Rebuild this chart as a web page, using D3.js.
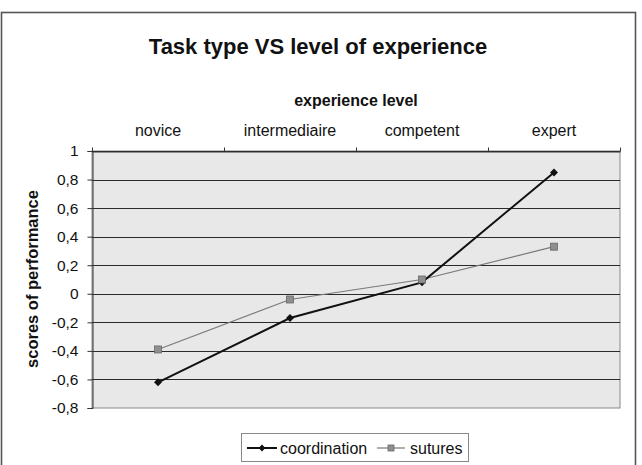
<!DOCTYPE html>
<html>
<head>
<meta charset="utf-8">
<script src="https://cdn.jsdelivr.net/npm/d3@7"></script>
<style>
  body { margin: 0; background: #fff; }
  svg text { font-family: "Liberation Sans", Arial, Helvetica, sans-serif; fill: #111; }
</style>
</head>
<body>
<div id="chart"></div>
<script>
//Chart data: performance scores per experience level
let levels = ['novice', 'intermediaire', 'competent', 'expert'];
let coordination = [-0.62, -0.17, 0.08, 0.85];
let sutures = [-0.39, -0.04, 0.10, 0.33];
let y_ticks = [-0.8, -0.6, -0.4, -0.2, 0, 0.2, 0.4, 0.6, 0.8, 1];

let width = 642, height = 465;
//Plot area bounds
let plot = {left: 92, right: 620, top: 151, bottom: 408};

let svg = d3.select('#chart').append('svg').attr('width', width).attr('height', height);

//Outer chart frame (bottom edge falls outside the picture)
svg.append('rect').attr('x', 1.5).attr('y', 12.5).attr('width', 634).attr('height', 470)
    .attr('fill', 'none').attr('stroke', '#555').attr('stroke-width', 1.6);

let x = d3.scaleBand().domain(levels).range([plot.left, plot.right]).padding(0);
let y = d3.scaleLinear().domain([-0.8, 1]).range([plot.bottom, plot.top]);

//Plot background
svg.append('rect').attr('x', plot.left).attr('y', plot.top)
    .attr('width', plot.right - plot.left).attr('height', plot.bottom - plot.top)
    .attr('fill', '#e8e8e8').attr('stroke', '#888').attr('stroke-width', 1);

//Horizontal gridlines
svg.append('g').selectAll('line').data(y_ticks.filter(t => t > -0.8)).enter().append('line')
    .attr('x1', plot.left).attr('x2', plot.right)
    .attr('y1', d => Math.round(y(d)) + 0.5).attr('y2', d => Math.round(y(d)) + 0.5)
    .attr('stroke', '#2a2a2a').attr('stroke-width', 1);

//Y axis
let yAxis = d3.axisLeft(y).tickValues(y_ticks).tickSize(5).tickPadding(9)
    .tickFormat(d => d3.format('.1f')(d).replace('.', ',').replace('0,0', '0').replace('1,0', '1').replace('−', '-'));
let yg = svg.append('g').attr('transform', 'translate(' + (plot.left + 0.5) + ',0)').call(yAxis);
yg.select('.domain').attr('stroke', '#333');
yg.selectAll('line').attr('stroke', '#333');
yg.selectAll('text').style('font-size', '15.5px').attr('fill', '#111');

//X axis along the top (category labels above the plot)
let xAxis = d3.axisTop(x).tickSize(0).tickPadding(16);
let xg = svg.append('g').attr('transform', 'translate(0,' + (plot.top + 0.5) + ')').call(xAxis);
xg.select('.domain').attr('stroke', '#333');
xg.selectAll('text').style('font-size', '16px').attr('fill', '#111');
//Tick marks at the category boundaries
xg.selectAll('.sep').data(levels.concat(['end'])).enter().append('line').attr('class', 'sep')
    .attr('x1', d => Math.round(d === 'end' ? plot.right : x(d)) + 0.5)
    .attr('x2', d => Math.round(d === 'end' ? plot.right : x(d)) + 0.5)
    .attr('y1', -4).attr('y2', 0).attr('stroke', '#333');

//Titles
svg.append('text').attr('x', 318).attr('y', 54).attr('text-anchor', 'middle')
    .style('font-size', '22px').style('font-weight', 'bold').text('Task type VS level of experience');
svg.append('text').attr('x', 356).attr('y', 106).attr('text-anchor', 'middle')
    .style('font-size', '16px').style('font-weight', 'bold').text('experience level');
svg.append('text').attr('transform', 'translate(38,279) rotate(-90)').attr('text-anchor', 'middle')
    .style('font-size', '16.5px').style('font-weight', 'bold').text('scores of performance');

//Series lines and markers
let line = d3.line().x((d, i) => x(levels[i]) + x.bandwidth() / 2).y(d => y(d));
svg.append('path').datum(sutures).attr('d', line).attr('fill', 'none')
    .attr('stroke', '#7a7a7a').attr('stroke-width', 1.2);
svg.append('path').datum(coordination).attr('d', line).attr('fill', 'none')
    .attr('stroke', '#111').attr('stroke-width', 2);

svg.append('g').selectAll('path').data(coordination).enter().append('path')
    .attr('transform', (d, i) => 'translate(' + (x(levels[i]) + x.bandwidth() / 2) + ',' + y(d) + ')')
    .attr('d', d3.symbol(d3.symbolDiamond2, 40)).attr('fill', '#111');
svg.append('g').selectAll('rect').data(sutures).enter().append('rect')
    .attr('x', (d, i) => x(levels[i]) + x.bandwidth() / 2 - 3.5).attr('y', d => y(d) - 3.5)
    .attr('width', 7).attr('height', 7).attr('fill', '#8f8f8f').attr('stroke', '#666').attr('stroke-width', 0.8);

//Legend
let legend = svg.append('g').attr('transform', 'translate(241,433)');
legend.append('rect').attr('x', 0.5).attr('y', 0.5).attr('width', 227).attr('height', 28)
    .attr('fill', '#fff').attr('stroke', '#888');
legend.append('line').attr('x1', 6).attr('x2', 36).attr('y1', 15).attr('y2', 15).attr('stroke', '#111').attr('stroke-width', 2);
legend.append('path').attr('transform', 'translate(21,15)').attr('d', d3.symbol(d3.symbolDiamond2, 30)).attr('fill', '#111');
legend.append('text').attr('x', 39).attr('y', 20.5).style('font-size', '16px').text('coordination');
legend.append('line').attr('x1', 136).attr('x2', 164).attr('y1', 15).attr('y2', 15).attr('stroke', '#7a7a7a').attr('stroke-width', 1.2);
legend.append('rect').attr('x', 147).attr('y', 12).attr('width', 6).attr('height', 6).attr('fill', '#8f8f8f').attr('stroke', '#666').attr('stroke-width', 0.8);
legend.append('text').attr('x', 169).attr('y', 20.5).style('font-size', '16px').text('sutures');
</script>
</body>
</html>
